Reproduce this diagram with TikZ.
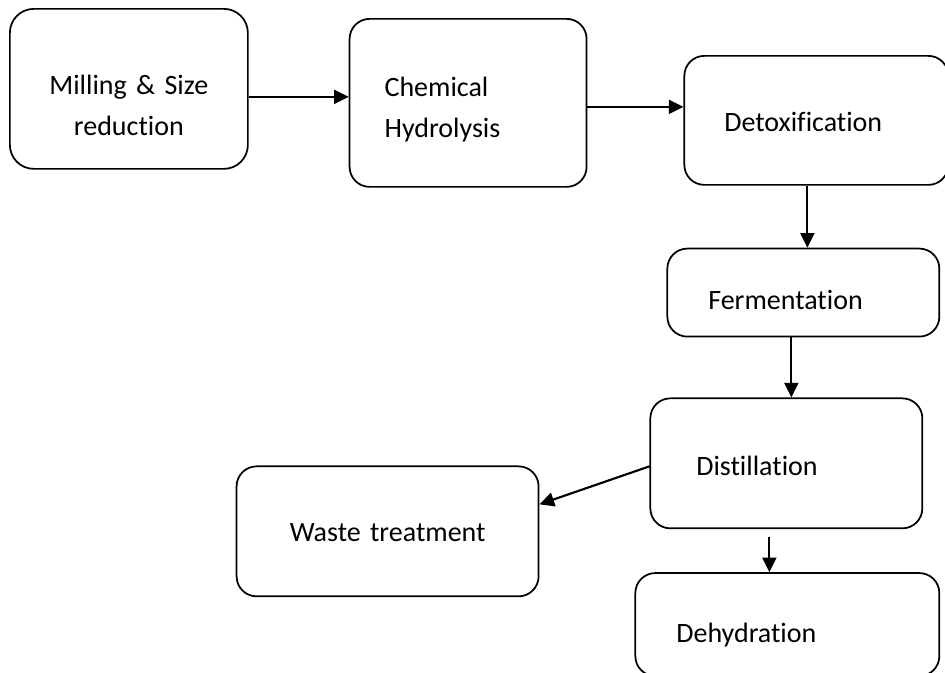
\documentclass[tikz,border=0pt]{standalone}
\usepackage{fontspec}
\setmainfont{Carlito}[Ligatures=NoCommon]
\usetikzlibrary{arrows.meta,positioning}

\begin{document}
\begin{tikzpicture}
    [node distance = 2cm, auto, font=\fontsize{21}{30.75}\selectfont,
    % STYLES
    % The stage style is used to draw each step of the process
    stage/.style={rectangle, draw, rounded corners=15pt, line width=1.3pt, inner sep=0pt, align=left, text depth=0pt},
    % The flow style is used to draw the arrows from one step to the next
    flow/.style={-{Triangle[length=11pt,width=10.5pt]}, line width=1.6pt}]

    \useasboundingbox (0,0) rectangle (708.75pt,-504pt);

    % Draw stages
    \node [stage, anchor=north west, rounded corners=18pt, align=center, minimum width=178.5pt, minimum height=120pt, text width=160pt, text height=9pt] (mill) at (6.75pt,-6pt) {Milling \& Size\\reduction};
    \node [stage, below right=7.5pt and 75pt of mill.north east, minimum width=177.75pt, minimum height=126pt, text width=125.25pt, text height=0pt, text depth=9pt] (hyd) {Chemical\\Hydrolysis};
    \node [stage, below right=27.75pt and 72pt of hyd.north east, minimum width=198pt, minimum height=96.75pt, text width=138pt, text height=17.25pt] (detox) {Detoxification};
    \node [stage, below=46.5pt of detox, xshift=-9.75pt, minimum width=204pt, minimum height=66pt, text width=142.5pt, text height=25.5pt] (ferm) {Fermentation};
    \node [stage, below=45pt of ferm, xshift=-12.75pt, minimum width=204pt, minimum height=97.5pt, text width=135pt, text height=18pt] (dist) {Distillation};
    \node [stage, left=82.5pt of dist, yshift=-51pt, align=center, minimum width=226.5pt, minimum height=97.5pt, text width=200pt, text height=15pt] (waste) {Waste treatment};
    \node [stage, below=32.25pt of dist, xshift=0.75pt, minimum width=228pt, minimum height=77.25pt, text width=166.5pt, text height=26.25pt] (dehyd) {Dehydration};

    % Draw flows
    \draw [flow] ([yshift=-6pt]mill.east) coordinate (m1) -- (m1 -| hyd.west);
    \draw [flow] ([yshift=-3pt]hyd.east) coordinate (h1) -- (h1 -| detox.west);
    \draw [flow] ([xshift=-6.75pt]detox.south) coordinate (d1) -- (d1 |- ferm.north);
    \draw [flow] ([xshift=-9pt]ferm.south) coordinate (f1) -- (f1 |- dist.north);
    \draw [flow] ([yshift=-2.25pt]dist.west) -- ([yshift=20.25pt]waste.east);
    \draw [flow] ([shift={(-12.75pt,-6pt)}]dist.south) coordinate (s1) -- (s1 |- dehyd.north);
\end{tikzpicture}
\end{document}
